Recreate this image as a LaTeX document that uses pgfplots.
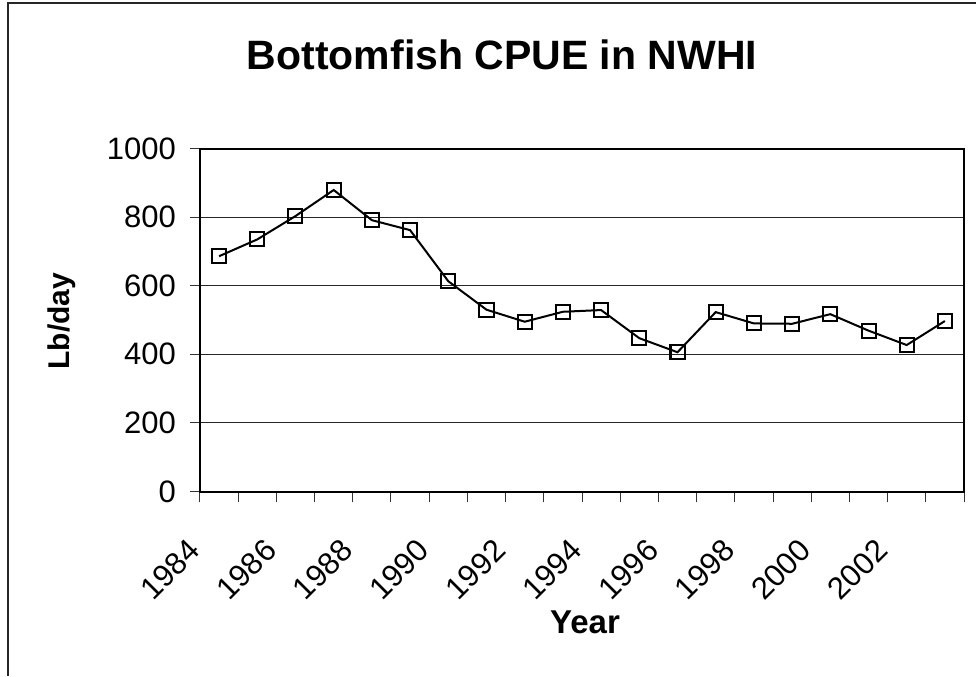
\documentclass[border=0pt]{standalone}
\usepackage{pgfplots}
\pgfplotsset{compat=1.18}
\usepackage{fontspec}
\setmainfont{Liberation Sans}
\begin{document}
\begin{tikzpicture}
\path[use as bounding box] (0pt,0pt) rectangle (488pt,338pt);
\draw[line width=1pt, black!85] (3.75pt,0pt) -- (3.75pt,336.25pt) -- (488pt,336.25pt);
\node[anchor=base, font=\fontsize{20.5}{24}\selectfont\bfseries] at (251pt,303pt) {Bottomfish CPUE in NWHI};
\node[anchor=base, font=\fontsize{16.5}{19}\selectfont\bfseries] at (292.5pt,21.5pt) {Year};
\node[rotate=90, font=\fontsize{15}{18}\selectfont\bfseries] at (31pt,177.5pt) {Lb/day};
\begin{axis}[
  at={(100pt,92.25pt)}, anchor=south west,
  scale only axis, width=382pt, height=171.5pt,
  xmin=-0.5, xmax=19.5, ymin=0, ymax=1000,
  ytick={0,200,...,1000},
  ymajorgrids, grid style={black!85, line width=0.5pt},
  xtick={-0.5,0.5,...,19.5}, xticklabels={},
  extra x ticks={0,2,...,18},
  extra x tick labels={1984,1986,1988,1990,1992,1994,1996,1998,2000,2002},
  extra x tick style={grid=none, major tick length=0pt,
    xticklabel style={rotate=45, anchor=north east, inner sep=0pt, xshift=-27.5pt, yshift=-4.5pt}},
  yticklabel style={xshift=-3.5pt},
  axis line style={line width=1pt},
  tick align=outside, xtick pos=bottom, ytick pos=left,
  major tick length=5pt,
  tick style={black!80, line width=0.5pt},
  ticklabel style={font=\fontsize{15.5}{18}\selectfont},
  /pgf/number format/assume math mode=true,
  /pgf/number format/set thousands separator={},
  clip=false,
]
\addplot[black, line width=1pt, mark=square, mark size=3.5pt, mark options={line width=1pt, solid}] coordinates {
(0,686) (1,735) (2,803) (3,879) (4,791) (5,762) (6,613) (7,530) (8,495) (9,524)
(10,529) (11,447) (12,406) (13,523) (14,490) (15,489) (16,517) (17,469) (18,427) (19,497)
};
\end{axis}
\end{tikzpicture}
\end{document}
